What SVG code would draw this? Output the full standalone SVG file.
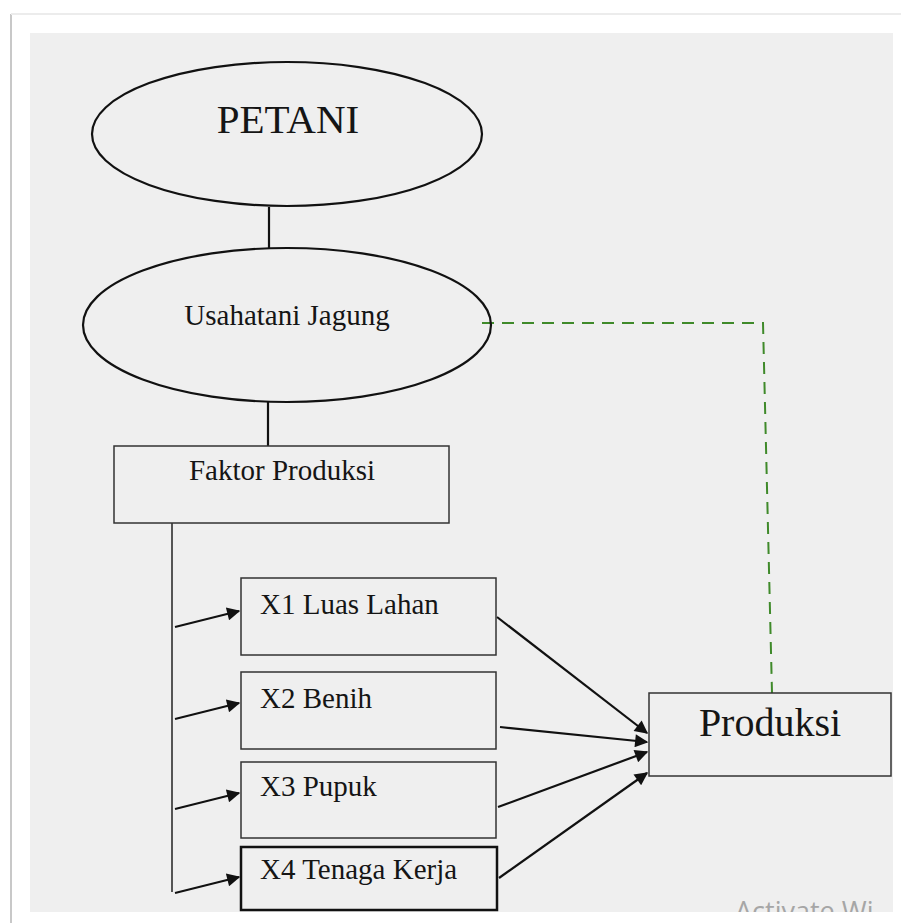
<svg xmlns="http://www.w3.org/2000/svg" width="901" height="923" viewBox="0 0 901 923">
<defs>
<style>
.ln{stroke:#111;stroke-width:2.2;fill:none}
.box{fill:none;stroke:#333;stroke-width:1.5}
.t{font-family:"Liberation Serif","Times New Roman",serif;fill:#151515}
.dash{stroke:#3f8a2a;stroke-width:2;fill:none;stroke-dasharray:12 8}
</style>
<marker id="ah" viewBox="0 0 10 10" refX="9" refY="5" markerWidth="7" markerHeight="6" orient="auto" markerUnits="strokeWidth">
<path d="M0,0 L10,5 L0,10 Z" fill="#111"/>
</marker>
<clipPath id="panel"><rect x="30" y="33" width="863" height="879"/></clipPath>
</defs>
<rect x="0" y="0" width="901" height="923" fill="#ffffff"/>
<line x1="11" y1="14" x2="11" y2="923" stroke="#c8c8c8" stroke-width="2"/>
<line x1="11" y1="14" x2="901" y2="14" stroke="#ececec" stroke-width="2"/>
<rect x="30" y="33" width="863" height="879" fill="#efefef"/>
<text x="735" y="921" clip-path="url(#panel)" font-family="'Open Sans','DejaVu Sans',sans-serif" font-size="27" fill="#a6a6a6">Activate Wi</text>

<g id="connectors">
<line class="ln" x1="269" y1="207" x2="269" y2="248"/>
<line class="ln" x1="268" y1="402" x2="268" y2="446"/>
<line x1="172" y1="523" x2="172" y2="892" stroke="#222" stroke-width="1.5"/>
<line class="ln" x1="175" y1="627" x2="239" y2="611" marker-end="url(#ah)"/>
<line class="ln" x1="175" y1="719" x2="239" y2="703" marker-end="url(#ah)"/>
<line class="ln" x1="175" y1="809" x2="239" y2="793" marker-end="url(#ah)"/>
<line class="ln" x1="175" y1="893" x2="239" y2="877" marker-end="url(#ah)"/>
<line class="ln" x1="497" y1="617" x2="647" y2="733" marker-end="url(#ah)"/>
<line class="ln" x1="500" y1="727" x2="647" y2="742" marker-end="url(#ah)"/>
<line class="ln" x1="498" y1="807" x2="647" y2="752" marker-end="url(#ah)"/>
<line class="ln" x1="499" y1="878" x2="647" y2="773" marker-end="url(#ah)"/>
<polyline class="dash" points="482,323 763,323 772,693"/>
</g>

<g id="petani">
<ellipse cx="287" cy="134" rx="195" ry="72" fill="none" stroke="#111" stroke-width="2.2"/>
<text class="t" x="288" y="133" font-size="41" text-anchor="middle">PETANI</text>
</g>
<g id="usahatani">
<ellipse cx="287" cy="325" rx="204" ry="77" fill="none" stroke="#111" stroke-width="2.2"/>
<text class="t" x="287" y="325" font-size="29" text-anchor="middle">Usahatani Jagung</text>
</g>
<g id="faktor">
<rect class="box" x="114" y="446" width="335" height="77"/>
<text class="t" x="282" y="480" font-size="29" text-anchor="middle">Faktor Produksi</text>
</g>
<g id="x1">
<rect class="box" x="241" y="578" width="255" height="77"/>
<text class="t" x="260" y="614" font-size="29">X1 Luas Lahan</text>
</g>
<g id="x2">
<rect class="box" x="241" y="672" width="255" height="77"/>
<text class="t" x="260" y="708" font-size="29">X2 Benih</text>
</g>
<g id="x3">
<rect class="box" x="241" y="762" width="255" height="76"/>
<text class="t" x="260" y="796" font-size="29">X3 Pupuk</text>
</g>
<g id="x4">
<rect x="241" y="847" width="256" height="63" fill="none" stroke="#111" stroke-width="2.5"/>
<text class="t" x="260" y="879" font-size="29">X4 Tenaga Kerja</text>
</g>
<g id="produksi">
<rect class="box" x="649" y="693" width="242" height="83"/>
<text class="t" x="770" y="736" font-size="40" text-anchor="middle">Produksi</text>
</g>
</svg>
